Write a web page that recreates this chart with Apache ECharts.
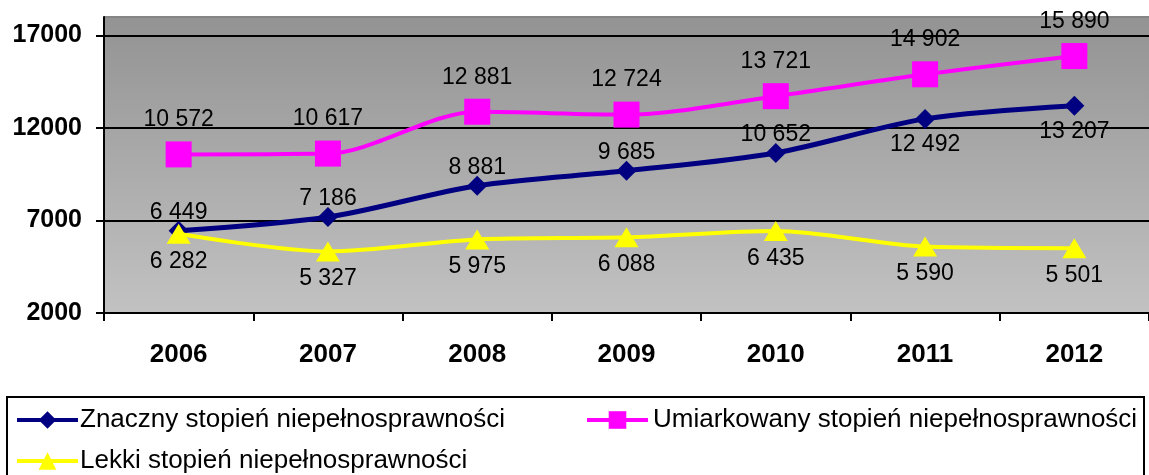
<!DOCTYPE html>
<html>
<head>
    <meta charset="utf-8">
    <title>Stopień niepełnosprawności</title>
    <script src="https://cdn.jsdelivr.net/npm/echarts@6/dist/echarts.min.js"></script>
    <style>
        html, body { margin: 0; padding: 0; background: #fff; }
        #chart { width: 1149px; height: 475px; }
    </style>
</head>
<body>
<div id="chart"></div>
<script>
    var years = ['2006', '2007', '2008', '2009', '2010', '2011', '2012'];
    var znaczny = [6449, 7186, 8881, 9685, 10652, 12492, 13207];
    var umiarkowany = [10572, 10617, 12881, 12724, 13721, 14902, 15890];
    var lekki = [6282, 5327, 5975, 6088, 6435, 5590, 5501];

    var names = ['Znaczny stopień niepełnosprawności', 'Umiarkowany stopień niepełnosprawności', 'Lekki stopień niepełnosprawności'];

    var font = 'Liberation Sans, Arial, sans-serif';

    function fmt(v) {
        return String(v).replace(/\B(?=(\d{3})+(?!\d))/g, ' ');
    }

    var chart = echarts.init(document.getElementById('chart'));

    // navy labels sit under the points for the last two years
    var znacznyData = znaczny.map(function (v, i) {
        return i >= 5
            ? { value: v, label: { position: 'bottom', distance: 4 } }
            : { value: v, label: { position: 'top', distance: -3 } };
    });

    var labelBase = { show: true, color: '#000', fontFamily: font, fontSize: 23, formatter: function (p) { return fmt(p.value); } };

    var legendText = { fontFamily: font, fontSize: 26, color: '#000' };

    var option = {
        animation: false,
        grid: {
            left: 104, top: 17, right: 0, bottom: 162,
            show: true,
            borderWidth: 0,
            backgroundColor: new echarts.graphic.LinearGradient(0, 0, 0, 1, [
                { offset: 0, color: '#939393' },
                { offset: 1, color: '#c2c2c2' }
            ])
        },
        xAxis: {
            type: 'category',
            data: years,
            boundaryGap: true,
            axisLine: { lineStyle: { color: '#000', width: 2 } },
            axisTick: { show: true, length: 8, lineStyle: { color: '#000', width: 2 } },
            axisLabel: { color: '#000', fontFamily: font, fontSize: 26, fontWeight: 'bold', margin: 29 }
        },
        yAxis: {
            type: 'value',
            min: 2000,
            max: 18000,
            interval: 5000,
            axisLine: { show: true, lineStyle: { color: '#000', width: 2 } },
            axisTick: { show: true, length: 8, lineStyle: { color: '#000', width: 2 } },
            axisLabel: {
                color: '#000', fontFamily: font, fontSize: 25, fontWeight: 'bold', margin: 22, showMaxLabel: false,
                formatter: function (v) { return String(v); }
            },
            splitLine: { show: true, showMaxLine: false, lineStyle: { color: '#000', width: 2 } }
        },
        legend: [
            {
                left: 10, top: 402,
                itemWidth: 61, itemHeight: 22, itemGap: 0,
                lineStyle: { width: 4 },
                textStyle: Object.assign({ padding: [0, 0, 0, -3] }, legendText),
                data: [names[0]]
            },
            {
                left: 580, top: 402,
                itemWidth: 61, itemHeight: 22, itemGap: 0,
                lineStyle: { width: 4 },
                textStyle: legendText,
                data: [names[1]]
            },
            {
                left: 10, top: 443,
                itemWidth: 61, itemHeight: 22, itemGap: 0,
                lineStyle: { width: 4 },
                textStyle: Object.assign({ padding: [0, 0, 0, -3] }, legendText),
                data: [names[2]]
            }
        ],
        graphic: [
            {
                type: 'rect',
                shape: { x: 104, y: 17, width: 1045, height: 0 },
                style: { fill: 'none', stroke: '#858585', lineWidth: 2 },
                silent: true
            },
            {
                type: 'rect',
                shape: { x: 7, y: 397, width: 1137, height: 90 },
                style: { fill: 'none', stroke: '#000', lineWidth: 2 },
                silent: true
            }
        ],
        series: [
            {
                name: names[0],
                type: 'line',
                smooth: 0.3,
                data: znacznyData,
                color: '#000080',
                symbol: 'diamond',
                symbolSize: 20,
                lineStyle: { width: 5, color: '#000080' },
                label: Object.assign({}, labelBase, { position: 'top', distance: -3 }),
                z: 3
            },
            {
                name: names[1],
                type: 'line',
                smooth: 0.3,
                data: umiarkowany,
                color: '#ff00ff',
                symbol: 'rect',
                symbolSize: 26,
                lineStyle: { width: 4, color: '#ff00ff' },
                label: Object.assign({}, labelBase, { position: 'top', distance: 10 }),
                z: 3
            },
            {
                name: names[2],
                type: 'line',
                smooth: 0.3,
                data: lekki,
                color: '#ffff00',
                symbol: 'triangle',
                symbolSize: [24, 20],
                lineStyle: { width: 4, color: '#ffff00' },
                label: Object.assign({}, labelBase, { position: 'bottom', distance: 6 }),
                z: 4
            }
        ]
    };

    chart.setOption(option);
</script>
</body>
</html>
